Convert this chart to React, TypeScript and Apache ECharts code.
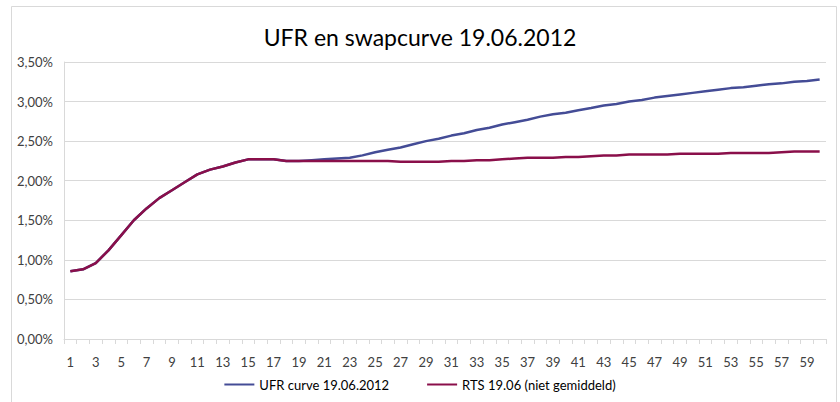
import React, { useEffect, useRef } from "react";
import * as echarts from "echarts";

const TITLE = "UFR en swapcurve 19.06.2012";
const categories: string[] = Array.from({ length: 60 }, (_, i) => String(i + 1));

const rtsValues: number[] = [
  0.855, 0.88, 0.96, 1.12, 1.31, 1.5, 1.65, 1.78, 1.88, 1.98,
  2.08, 2.14, 2.18, 2.23, 2.27, 2.27, 2.27, 2.25, 2.25, 2.25,
  2.25, 2.25, 2.25, 2.25, 2.25, 2.25, 2.24, 2.24, 2.24, 2.24,
  2.25, 2.25, 2.26, 2.26, 2.27, 2.28, 2.29, 2.29, 2.29, 2.3,
  2.3, 2.31, 2.32, 2.32, 2.33, 2.33, 2.33, 2.33, 2.34, 2.34,
  2.34, 2.34, 2.35, 2.35, 2.35, 2.35, 2.36, 2.37, 2.37, 2.37,
];

const ufrValues: number[] = [
  0.855, 0.88, 0.96, 1.12, 1.31, 1.5, 1.65, 1.78, 1.88, 1.98,
  2.08, 2.14, 2.18, 2.23, 2.27, 2.27, 2.27, 2.25, 2.25, 2.26,
  2.27, 2.28, 2.29, 2.32, 2.36, 2.39, 2.42, 2.46, 2.5, 2.53,
  2.57, 2.6, 2.64, 2.67, 2.71, 2.74, 2.77, 2.81, 2.84, 2.86,
  2.89, 2.92, 2.95, 2.97, 3.0, 3.02, 3.05, 3.07, 3.09, 3.11,
  3.13, 3.15, 3.17, 3.18, 3.2, 3.22, 3.23, 3.25, 3.26, 3.28,
];

const seriesNames = ["UFR curve 19.06.2012", "RTS 19.06 (niet gemiddeld)"];
const FONT = "Lato, 'Open Sans', sans-serif";

export default function App() {
  const ref = useRef<HTMLDivElement>(null);
  useEffect(() => {
    document.body.style.margin = "0";
    if (!ref.current) return;
    const chart = echarts.init(ref.current, null, { renderer: "svg" });
    chart.setOption({
      animation: false,
      backgroundColor: "#ffffff",
      textStyle: { fontFamily: FONT },
      title: {
        text: TITLE,
        left: "center",
        top: 20,
        textStyle: { fontFamily: FONT, fontSize: 23, fontWeight: "normal", color: "#000000" },
      },
      graphic: [
        {
          type: "rect",
          shape: { x: 11.5, y: 6.5, width: 825, height: 420 },
          style: { fill: "none", stroke: "#d9d9d9", lineWidth: 1 },
          silent: true,
        },
      ],
      grid: { left: 64, right: 14, top: 62, bottom: 63 },
      legend: {
        bottom: 6,
        left: "center",
        icon: "rect",
        itemWidth: 30,
        itemHeight: 2,
        itemGap: 38,
        textStyle: { fontFamily: FONT, fontSize: 13, color: "#000000" },
        data: seriesNames,
      },
      xAxis: {
        type: "category",
        data: categories,
        boundaryGap: true,
        axisLine: { lineStyle: { color: "#d9d9d9" } },
        axisTick: { show: true, interval: 0, length: 5, lineStyle: { color: "#d9d9d9" } },
        axisLabel: { interval: 1, margin: 16, fontSize: 13, color: "#404040", fontFamily: FONT },
      },
      yAxis: {
        type: "value",
        min: 0,
        max: 3.5,
        interval: 0.5,
        axisLine: { show: true, lineStyle: { color: "#d9d9d9" } },
        axisTick: { show: false },
        splitLine: { lineStyle: { color: "#d9d9d9" } },
        axisLabel: {
          margin: 11,
          fontSize: 13,
          color: "#404040",
          fontFamily: FONT,
          formatter: (v: number) => v.toFixed(2).replace(".", ",") + "%",
        },
      },
      series: [
        {
          name: seriesNames[0],
          type: "line",
          data: ufrValues,
          symbol: "none",
          lineStyle: { color: "#444c96", width: 2.5 },
          itemStyle: { color: "#444c96" },
          z: 2,
        },
        {
          name: seriesNames[1],
          type: "line",
          data: rtsValues,
          symbol: "none",
          lineStyle: { color: "#8a0f4a", width: 2.5 },
          itemStyle: { color: "#8a0f4a" },
          z: 3,
        },
      ],
    });
    return () => chart.dispose();
  }, []);
  return <div ref={ref} style={{ width: 840, height: 402 }} />;
}
